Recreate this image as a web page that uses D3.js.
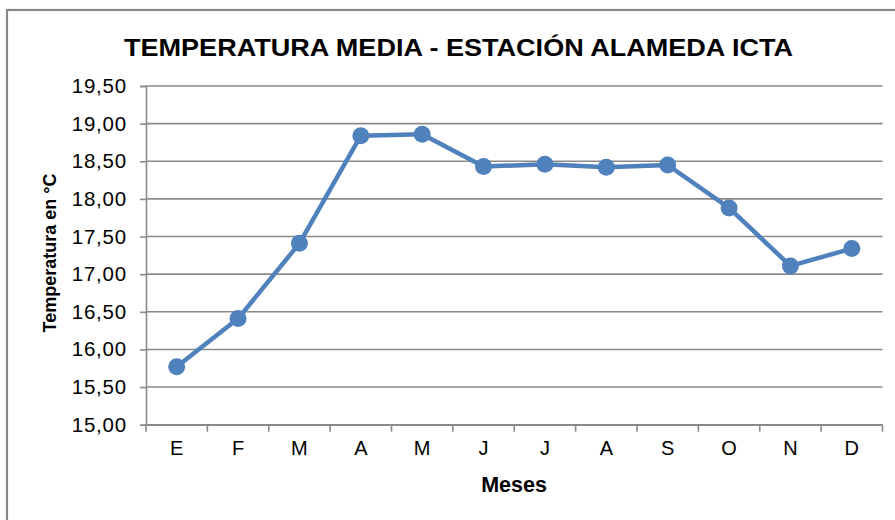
<!DOCTYPE html>
<html>
<head>
<meta charset="utf-8">
<script src="https://cdn.jsdelivr.net/npm/d3@7"></script>
<style>
  html, body { margin: 0; padding: 0; background: #fff; }
  svg { display: block; font-family: "Liberation Sans", Arial, sans-serif; }
</style>
</head>
<body>
<svg id="chart" width="895" height="520"></svg>
<script>
const months = ["E","F","M","A","M","J","J","A","S","O","N","D"];
const temps = [15.77, 16.41, 17.41, 18.84, 18.86, 18.43, 18.46, 18.42, 18.45, 17.88, 17.11, 17.34];
const yTicks = [15.0, 15.5, 16.0, 16.5, 17.0, 17.5, 18.0, 18.5, 19.0, 19.5];
const title = "TEMPERATURA MEDIA - ESTACIÓN ALAMEDA ICTA";
const xTitle = "Meses";
const yTitle = "Temperatura en °C";

(function () {
const svg = d3.select("#chart");
const W = 895, H = 520;
const mL = 146, mR = 882.5, mT = 86, mB = 424.7;
const grid = "#8a8a8a";
const blue = "#4F81BD";

// outer frame
svg.append("rect").attr("x", 7).attr("y", 10).attr("width", W + 10).attr("height", H + 10)
  .attr("fill", "#fff").attr("stroke", "#888").attr("stroke-width", 2.2);

const idx = d3.range(months.length);
const x = d3.scaleBand().domain(idx).range([mL, mR]);
const y = d3.scaleLinear().domain([15, 19.5]).range([mB, mT]);

// gridlines
svg.append("g").selectAll("line").data(yTicks).join("line")
  .attr("x1", mL).attr("x2", mR)
  .attr("y1", d => y(d)).attr("y2", d => y(d))
  .attr("stroke", grid).attr("stroke-width", 1.6);

// y axis
const yAxis = svg.append("g").attr("transform", `translate(${mL},0)`)
  .call(d3.axisLeft(y).tickValues(yTicks).tickSize(6).tickPadding(13)
    .tickFormat(d => d3.format(".2f")(d).replace(".", ",")));
yAxis.select(".domain").attr("stroke", grid).attr("stroke-width", 1.6);
yAxis.selectAll(".tick line").attr("stroke", grid).attr("stroke-width", 1.6);
yAxis.selectAll("text").attr("font-size", 20.5).attr("fill", "#000")
  .attr("letter-spacing", 0.8)
  .attr("font-family", "Liberation Sans, Arial, sans-serif");

// x axis
const xAxis = svg.append("g").attr("transform", `translate(0,${mB})`)
  .call(d3.axisBottom(x).tickFormat(i => months[i]).tickSize(0).tickPadding(16));
xAxis.select(".domain").attr("stroke", grid).attr("stroke-width", 1.6);
xAxis.selectAll("text").attr("font-size", 20).attr("fill", "#000")
  .attr("font-family", "Liberation Sans, Arial, sans-serif");
// category boundary ticks
const bounds = idx.map(i => x(i)).concat([mR]);
svg.append("g").selectAll("line").data(bounds).join("line")
  .attr("x1", d => d).attr("x2", d => d)
  .attr("y1", mB).attr("y2", mB + 7)
  .attr("stroke", grid).attr("stroke-width", 1.6);

// line + markers
const cx = i => x(i) + x.bandwidth() / 2;
svg.append("path").datum(idx)
  .attr("fill", "none").attr("stroke", blue).attr("stroke-width", 4.5)
  .attr("stroke-linejoin", "round")
  .attr("d", d3.line().x(i => cx(i)).y(i => y(temps[i])));
svg.append("g").selectAll("circle").data(idx).join("circle")
  .attr("cx", i => cx(i)).attr("cy", i => y(temps[i])).attr("r", 8.5)
  .attr("fill", blue);

// titles
svg.append("text").attr("x", 458.5).attr("y", 56).attr("text-anchor", "middle")
  .attr("font-size", 24).attr("font-weight", "bold").attr("fill", "#000")
  .attr("textLength", 669).attr("lengthAdjust", "spacingAndGlyphs")
  .text(title);
svg.append("text").attr("x", 514).attr("y", 492).attr("text-anchor", "middle")
  .attr("font-size", 21.5).attr("font-weight", "bold").attr("fill", "#000")
  .text(xTitle);
svg.append("text").attr("transform", "translate(56,253) rotate(-90)")
  .attr("text-anchor", "middle")
  .attr("font-size", 18).attr("font-weight", "bold").attr("fill", "#000")
  .text(yTitle);
})();
</script>
</body>
</html>
